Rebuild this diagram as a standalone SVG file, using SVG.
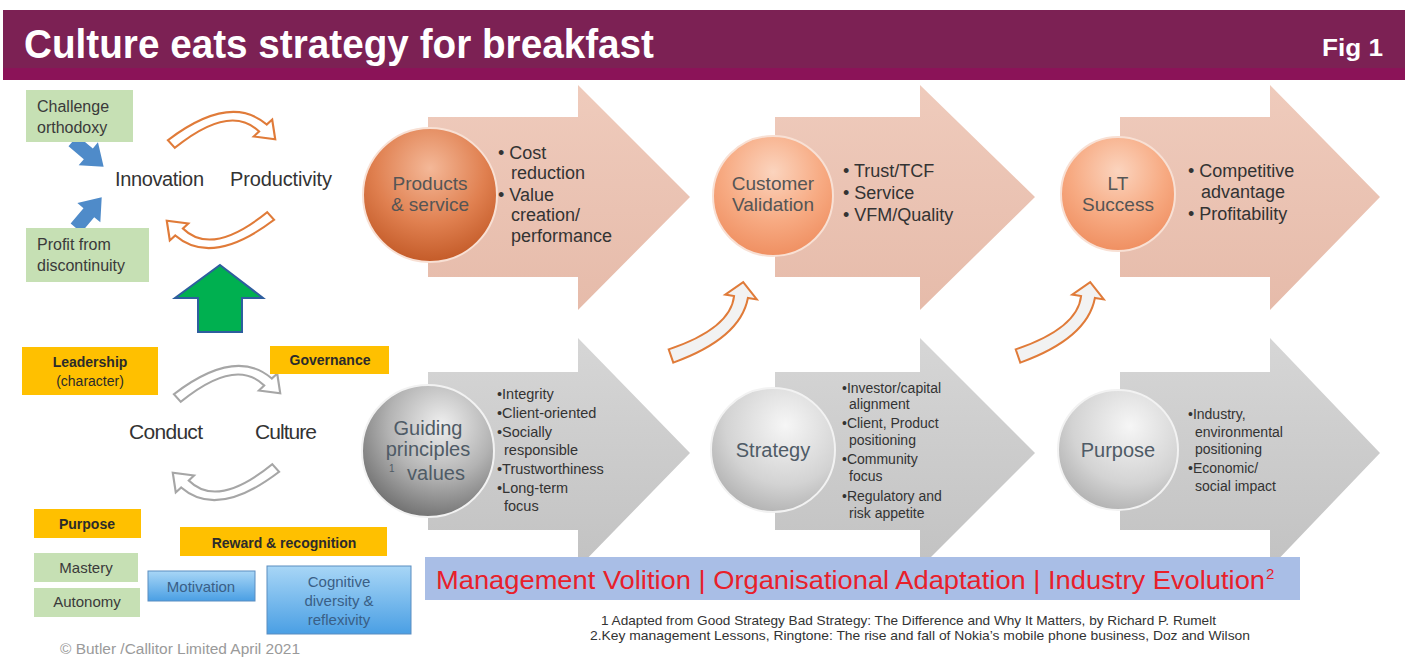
<svg xmlns="http://www.w3.org/2000/svg" width="1405" height="657" viewBox="0 0 1405 657">
<style>
text{font-family:"Liberation Sans",Arial,sans-serif;}
.lbl{fill:#3a3a3a;font-size:16px;}
.big{fill:#333;font-size:20px;}
.big21{fill:#333;font-size:21px;}
.ob{fill:#2b2b2b;font-size:14px;font-weight:bold;}
.on{fill:#2b2b2b;font-size:14px;}
.gb{fill:#3a3a3a;font-size:15px;}
.bt{fill:#3a5f86;font-size:15px;}
.ct{fill:#555;font-size:19px;}
.gt{fill:#4f5b66;font-size:20px;}
.sup{fill:#4f5b66;font-size:10px;}
.tb{fill:#333;font-size:18px;}
.sb{fill:#333;font-size:14.5px;}
.sm{fill:#333;font-size:14px;}
.fn{fill:#333;font-size:13px;}
.orng{fill:#FFC000;}
.grn{fill:#C6E0B4;}
.ocurve{fill:#fff;stroke:#E07B39;stroke-width:2;}
.gcurve{fill:#fff;stroke:#A6A6A6;stroke-width:2;}
.upcurve{fill:#F2F2F2;stroke:#E07B39;stroke-width:2;}
.parrow{fill:url(#pinkArrow);}
.garrow{fill:url(#grayArrow);}
</style>
<defs>
<linearGradient id="pinkArrow" x1="0" y1="0" x2="0" y2="1">
<stop offset="0" stop-color="#EFCBBC"/><stop offset="1" stop-color="#E6BBAA"/>
</linearGradient>
<linearGradient id="grayArrow" x1="0" y1="0" x2="0" y2="1">
<stop offset="0" stop-color="#D6D6D6"/><stop offset="1" stop-color="#C2C2C2"/>
</linearGradient>
<radialGradient id="orDark" cx="0.5" cy="0.3" r="0.75">
<stop offset="0" stop-color="#F4B898"/><stop offset="0.55" stop-color="#E08050"/><stop offset="1" stop-color="#BF5522"/>
</radialGradient>
<radialGradient id="orLight" cx="0.5" cy="0.3" r="0.75">
<stop offset="0" stop-color="#FBD4BE"/><stop offset="0.55" stop-color="#F7AA82"/><stop offset="1" stop-color="#EE8B5C"/>
</radialGradient>
<radialGradient id="grDark" cx="0.6" cy="0.3" r="0.8">
<stop offset="0" stop-color="#EFEFEF"/><stop offset="0.5" stop-color="#B3B3B3"/><stop offset="1" stop-color="#626262"/>
</radialGradient>
<radialGradient id="grLight" cx="0.6" cy="0.3" r="0.8">
<stop offset="0" stop-color="#F6F6F6"/><stop offset="0.6" stop-color="#D3D3D3"/><stop offset="1" stop-color="#A9A9A9"/>
</radialGradient>
<linearGradient id="blueBox" x1="0" y1="0" x2="0" y2="1">
<stop offset="0" stop-color="#A8D6F6"/><stop offset="1" stop-color="#4A9FE4"/>
</linearGradient>
<path id="curveR" d="M0.8,28.2 Q58,-19 91.5,12.5 L96.5,7.5 L99.3,27.3 L79.5,24.5 L84.5,19.5 Q58,-9 7.2,35.8 Z"/>
<path id="curveUp" d="M8.7,79.4 Q70.6,58.5 74.1,26 L65.2,24.6 L83.2,12.2 L96.8,29.4 L87.9,28 Q80.4,68.3 13.3,92.6 Z"/>
<path id="blockArrow" d="M0,-7 L20,-7 L20,-15 L40,0 L20,15 L20,7 L0,7 Z"/>
</defs>

<rect x="0" y="0" width="1405" height="657" fill="#fff"/>

<g id="header">
<rect x="3" y="10" width="1402" height="60" fill="#7C2154"/>
<rect x="3" y="68" width="1402" height="12" fill="#8B1358"/>
<text x="24" y="58" font-size="40" font-weight="bold" fill="#fff" textLength="630" lengthAdjust="spacingAndGlyphs">Culture eats strategy for breakfast</text>
<text x="1322" y="56" font-size="24" font-weight="bold" fill="#fff" textLength="61" lengthAdjust="spacingAndGlyphs">Fig 1</text>
</g>

<g id="connectors">
<use href="#curveR" class="ocurve" transform="translate(167,112) scale(1.09,1)"/>
<use href="#curveR" class="ocurve" transform="translate(275,248) rotate(180) scale(1.09,1)"/>
<use href="#curveR" class="gcurve" transform="translate(173,366) scale(1.08,1)"/>
<use href="#curveR" class="gcurve" transform="translate(280,500) rotate(180) scale(1.08,1)"/>
<use href="#blockArrow" fill="#4F8BC9" transform="translate(73,141) rotate(40)"/>
<use href="#blockArrow" fill="#4F8BC9" transform="translate(76,228) rotate(-50)"/>
<polygon points="220,265 263,298 242,298 242,332 198,332 198,298 175,298" fill="#00B050" stroke="#2E5E9E" stroke-width="2"/>
<use href="#curveUp" class="upcurve" transform="translate(660,270)"/>
<use href="#curveUp" class="upcurve" transform="translate(1007,270)"/>
</g>

<g id="challenge">
<rect x="26" y="90" width="107" height="52" class="grn"/>
<text x="37" y="112" class="lbl">Challenge</text>
<text x="37" y="133" class="lbl">orthodoxy</text>
</g>
<g id="profit">
<rect x="26" y="228" width="123" height="54" class="grn"/>
<text x="37" y="250" class="lbl">Profit from</text>
<text x="37" y="271" class="lbl">discontinuity</text>
</g>
<g id="innovation"><text x="115" y="186" class="big" textLength="89">Innovation</text></g>
<g id="productivity"><text x="230" y="186" class="big" textLength="102">Productivity</text></g>

<g id="leadership">
<rect x="22" y="347" width="136" height="48" class="orng"/>
<text x="90" y="367" class="ob" text-anchor="middle">Leadership</text>
<text x="90" y="386" class="on" text-anchor="middle">(character)</text>
</g>
<g id="governance">
<rect x="270" y="346" width="119" height="28" class="orng"/>
<text x="330" y="365" class="ob" text-anchor="middle">Governance</text>
</g>
<g id="conduct"><text x="129" y="439" class="big21" textLength="74">Conduct</text></g>
<g id="culture"><text x="255" y="439" class="big21" textLength="62">Culture</text></g>
<g id="purpose-box">
<rect x="34" y="509" width="107" height="29" class="orng"/>
<text x="87" y="529" class="ob" text-anchor="middle">Purpose</text>
</g>
<g id="reward">
<rect x="180" y="527" width="207" height="29" class="orng"/>
<text x="284" y="548" class="ob" text-anchor="middle">Reward &amp; recognition</text>
</g>
<g id="mastery">
<rect x="34" y="553" width="104" height="29" class="grn"/>
<text x="86" y="573" class="gb" text-anchor="middle">Mastery</text>
</g>
<g id="autonomy">
<rect x="34" y="588" width="106" height="29" class="grn"/>
<text x="87" y="607" class="gb" text-anchor="middle">Autonomy</text>
</g>
<g id="motivation">
<rect x="148" y="571" width="107" height="30" fill="url(#blueBox)" stroke="#5B8DC0" stroke-width="1"/>
<text x="201" y="592" class="bt" text-anchor="middle">Motivation</text>
</g>
<g id="cognitive">
<rect x="267" y="566" width="144" height="68" fill="url(#blueBox)" stroke="#5B8DC0" stroke-width="1"/>
<text x="339" y="587" class="bt" text-anchor="middle">Cognitive</text>
<text x="339" y="606" class="bt" text-anchor="middle">diversity &amp;</text>
<text x="339" y="625" class="bt" text-anchor="middle">reflexivity</text>
</g>
<g id="copyright"><text x="60" y="654" font-size="14" fill="#9a9a9a" textLength="240" lengthAdjust="spacingAndGlyphs">© Butler /Callitor Limited April 2021</text></g>

<g id="products">
<path class="parrow" d="M428,117 H578 V85 L690,197 L578,310 V277 H428 Z"/>
<circle cx="430" cy="195" r="67" fill="url(#orDark)" stroke="#F8E0D4" stroke-width="2"/>
<text x="430" y="190" class="ct" text-anchor="middle">Products</text>
<text x="430" y="211" class="ct" text-anchor="middle">&amp; service</text>
<text x="498" y="159" class="tb">• Cost</text>
<text x="511" y="179" class="tb">reduction</text>
<text x="498" y="201" class="tb">• Value</text>
<text x="511" y="221" class="tb">creation/</text>
<text x="511" y="242" class="tb">performance</text>
</g>
<g id="customer">
<path class="parrow" d="M775,117 H920 V85 L1035,197 L920,310 V277 H775 Z"/>
<circle cx="773" cy="196" r="60" fill="url(#orLight)" stroke="#F8E0D4" stroke-width="2"/>
<text x="773" y="190" class="ct" text-anchor="middle">Customer</text>
<text x="773" y="211" class="ct" text-anchor="middle">Validation</text>
<text x="843" y="177" class="tb">• Trust/TCF</text>
<text x="843" y="199" class="tb">• Service</text>
<text x="843" y="221" class="tb">• VFM/Quality</text>
</g>
<g id="success">
<path class="parrow" d="M1120,117 H1270 V85 L1380,197 L1270,310 V277 H1120 Z"/>
<circle cx="1118" cy="194" r="57" fill="url(#orLight)" stroke="#F8E0D4" stroke-width="2"/>
<text x="1118" y="190" class="ct" text-anchor="middle">LT</text>
<text x="1118" y="211" class="ct" text-anchor="middle">Success</text>
<text x="1188" y="177" class="tb">• Competitive</text>
<text x="1201" y="198" class="tb">advantage</text>
<text x="1188" y="220" class="tb">• Profitability</text>
</g>

<g id="guiding">
<path class="garrow" d="M428,372 H578 V338 L690,453 L578,568 V530 H428 Z"/>
<circle cx="428" cy="451" r="66" fill="url(#grDark)" stroke="#F2F2F2" stroke-width="2"/>
<text x="428" y="435" class="gt" text-anchor="middle">Guiding</text>
<text x="428" y="456" class="gt" text-anchor="middle">principles</text>
<text x="389" y="472" class="sup">1</text>
<text x="436" y="480" class="gt" text-anchor="middle">values</text>
<text x="497" y="399" class="sb">•Integrity</text>
<text x="497" y="418" class="sb">•Client-oriented</text>
<text x="497" y="437" class="sb">•Socially</text>
<text x="504" y="455" class="sb">responsible</text>
<text x="497" y="474" class="sb">•Trustworthiness</text>
<text x="497" y="493" class="sb">•Long-term</text>
<text x="504" y="511" class="sb">focus</text>
</g>
<g id="strategy">
<path class="garrow" d="M775,372 H920 V338 L1035,453 L920,568 V530 H775 Z"/>
<circle cx="773" cy="450" r="62" fill="url(#grLight)" stroke="#F2F2F2" stroke-width="2"/>
<text x="773" y="457" class="gt" text-anchor="middle">Strategy</text>
<text x="842" y="393" class="sm">•Investor/capital</text>
<text x="849" y="409" class="sm">alignment</text>
<text x="842" y="428" class="sm">•Client, Product</text>
<text x="849" y="445" class="sm">positioning</text>
<text x="842" y="464" class="sm">•Community</text>
<text x="849" y="481" class="sm">focus</text>
<text x="842" y="501" class="sm">•Regulatory and</text>
<text x="849" y="518" class="sm">risk appetite</text>
</g>
<g id="purpose">
<path class="garrow" d="M1120,372 H1270 V338 L1380,453 L1270,568 V530 H1120 Z"/>
<circle cx="1118" cy="450" r="60" fill="url(#grLight)" stroke="#F2F2F2" stroke-width="2"/>
<text x="1118" y="457" class="gt" text-anchor="middle">Purpose</text>
<text x="1188" y="419" class="sm">•Industry,</text>
<text x="1195" y="437" class="sm">environmental</text>
<text x="1195" y="454" class="sm">positioning</text>
<text x="1188" y="473" class="sm">•Economic/</text>
<text x="1195" y="491" class="sm">social impact</text>
</g>

<g id="evolution-bar">
<rect x="425" y="557" width="875" height="43" fill="#A9BEE6"/>
<text x="436" y="589" font-size="25" fill="#E8202A" textLength="829" lengthAdjust="spacingAndGlyphs">Management  Volition | Organisational  Adaptation | Industry Evolution</text>
<text x="1266" y="579" font-size="15" fill="#E8202A">2</text>
</g>

<g id="footnotes">
<text x="601" y="625" class="fn" textLength="615" lengthAdjust="spacingAndGlyphs">1 Adapted from Good Strategy Bad Strategy: The Difference and Why It Matters, by Richard P. Rumelt</text>
<text x="590" y="640" class="fn" textLength="660" lengthAdjust="spacingAndGlyphs">2.Key management Lessons, Ringtone: The rise and fall of Nokia’s mobile phone business, Doz and Wilson</text>
</g>
</svg>
